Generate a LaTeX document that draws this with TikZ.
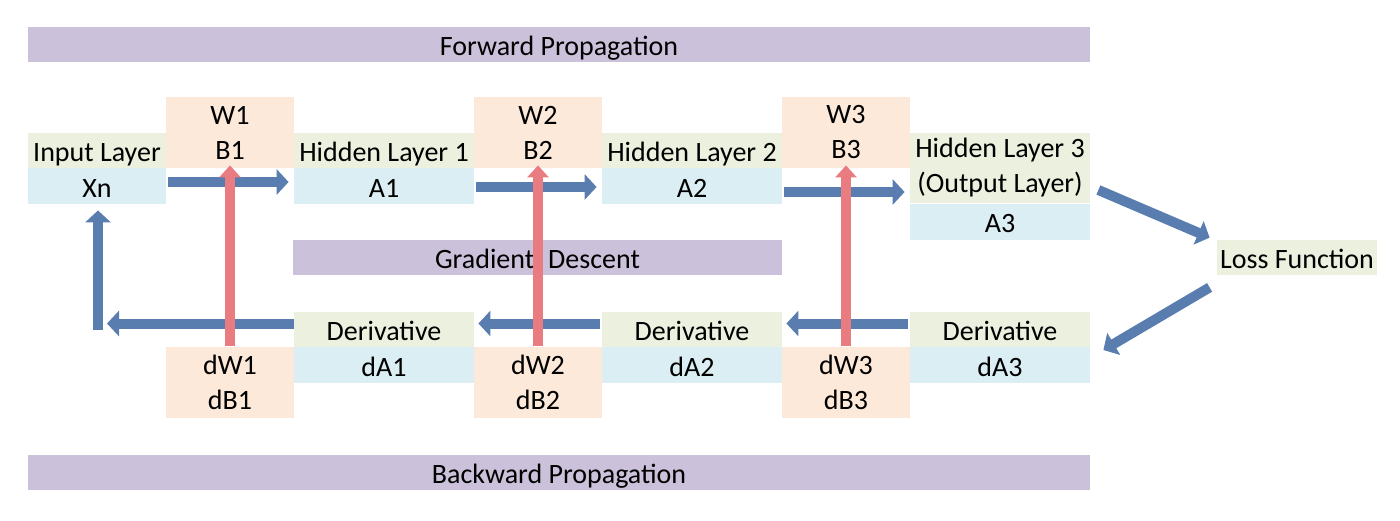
\documentclass[tikz,border=0pt]{standalone}
\usepackage{fontspec}
\setmainfont{Carlito}
\usetikzlibrary{arrows.meta}
\definecolor{barpurple}{HTML}{CCC1DA}
\definecolor{lyrgreen}{HTML}{EBF1DE}
\definecolor{actblue}{HTML}{DAEEF3}
\definecolor{parpeach}{HTML}{FDE9D9}
\definecolor{flowblue}{HTML}{5A7DAF}
\definecolor{updpink}{HTML}{E87C80}

\begin{document}
\begin{tikzpicture}[x=0.5pt,y=-0.5pt,
    every node/.style={font=\fontsize{14}{17.5}\selectfont, inner sep=0pt, align=center},
    one/.style={text height=13pt, text depth=2pt},
    bar/.style={one, fill=barpurple, minimum height=17.5pt},
    lyr/.style={one, fill=lyrgreen, minimum width=90pt, minimum height=17.5pt},
    act/.style={one, fill=actblue, minimum width=90pt, minimum height=18pt},
    par/.style={fill=parpeach, minimum width=64pt, minimum height=35.5pt},
    flow/.style={draw=flowblue, line width=5pt, -{Triangle[width=12.5pt,length=6pt]}},
    upd/.style={draw=updpink, line width=5pt, -{Triangle[width=10.5pt,length=6pt]}}]
        \useasboundingbox (0,0) rectangle (1400,520);
        % bars
        \node[bar, minimum width=531pt] (fwd) at (559,44.5) {Forward Propagation};
        \node[bar, minimum width=531pt] (bwd) at (559,472.5) {Backward Propagation};
        \node[bar, minimum width=244.5pt] (gd) at (537.5,257.5) {Gradient\hspace{7pt}Descent};
        % forward row
        \node[lyr, minimum width=69pt] (in) at (97,150.5) {Input Layer};
        \node[act, minimum width=69pt] (xn) at (97,186) {Xn};
        \node[par] (w1) at (230,132.5) {W1\\B1};
        \node[lyr] (hl1) at (384,150.5) {Hidden Layer 1};
        \node[act] (a1) at (384,186) {A1};
        \node[par] (w2) at (538,132.5) {W2\\B2};
        \node[lyr] (hl2) at (692,150.5) {Hidden Layer 2};
        \node[act] (a2) at (692,186) {A2};
        \node[par] (w3) at (846,132.5) {W3\\B3};
        \node[lyr, text height=, text depth=, minimum height=35pt] (hl3) at (1000,168) {Hidden Layer 3\\(Output Layer)};
        \node[act] (a3) at (1000,221.5) {A3};
        \node[lyr, minimum width=80pt] (loss) at (1297,257.5) {Loss Function};
        % backward row
        \node[lyr] (der1) at (384,329.5) {Derivative};
        \node[act] (da1) at (384,365) {dA1};
        \node[par] (dw1) at (230,382) {dW1\\dB1};
        \node[lyr] (der2) at (692,329.5) {Derivative};
        \node[act] (da2) at (692,365) {dA2};
        \node[par] (dw2) at (538,382) {dW2\\dB2};
        \node[lyr] (der3) at (1000,329.5) {Derivative};
        \node[act] (da3) at (1000,365) {dA3};
        \node[par] (dw3) at (846,382) {dW3\\dB3};
        \coordinate (turn) at (98,330);
        % forward arrows
        \draw[flow, shorten <=1pt, shorten >=2.5pt] ([yshift=2pt]xn.east) -- ([yshift=2pt]a1.west);
        \draw[flow, shorten <=1pt, shorten >=2.5pt] ([yshift=-0.5pt]a1.east) -- ([yshift=-0.5pt]a2.west);
        \draw[flow, shorten <=1pt, shorten >=2.5pt] ([yshift=-3pt]a2.east) -- ([yshift=-3pt]a2.east -| hl3.west);
        \draw[flow] ([shift={(8,22)}]hl3.east) -- ([shift={(-7,-2)}]loss.north west);
        \draw[flow] ([shift={(-7,12)}]loss.south west) -- ([shift={(13,-15)}]da3.east);
        % backward arrows
        \draw[flow, shorten <=1pt, shorten >=2pt] ([yshift=3pt]der3.west) -- ([yshift=3pt]der2.east);
        \draw[flow, shorten <=1pt, shorten >=2pt] ([yshift=3pt]der2.west) -- ([yshift=3pt]der1.east);
        \draw[flow, shorten >=4.5pt] ([yshift=3pt]der1.west) -- ([yshift=3pt]der1.west -| turn);
        \draw[flow, shorten >=3pt] (turn) -- (turn |- xn.south);
        % updates
        \draw[upd, shorten >=-1.5pt] (dw1.north) -- (w1.south);
        \draw[upd, shorten >=-1.5pt] (dw2.north) -- (w2.south);
        \draw[upd, shorten >=-1.5pt] (dw3.north) -- (w3.south);
\end{tikzpicture}
\end{document}
